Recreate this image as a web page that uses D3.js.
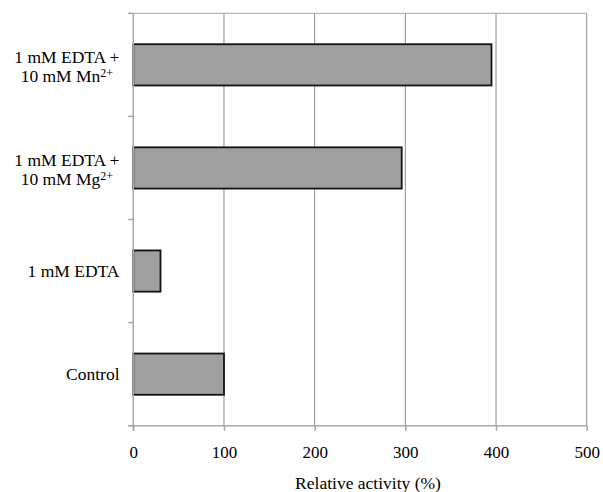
<!DOCTYPE html>
<html>
<head>
<meta charset="utf-8">
<script src="https://cdn.jsdelivr.net/npm/d3@7/dist/d3.min.js"></script>
<style>
  html, body { margin: 0; padding: 0; background: #fff; }
</style>
</head>
<body>
<svg id="chart" width="603" height="492"></svg>
<script>
// Categories from top to bottom; each label given as lines, superscript as [base, sup]
const categories = ["Mn", "Mg", "EDTA", "Control"];
const categoryLabels = [
  [[["1 mM EDTA +", ""]], [["10 mM Mn", "2+"]]],
  [[["1 mM EDTA +", ""]], [["10 mM Mg", "2+"]]],
  [[["1 mM EDTA", ""]]],
  [[["Control", ""]]]
];
const values = [395, 296, 30, 100];
const xTicks = [0, 100, 200, 300, 400, 500];
const xTitle = "Relative activity (%)";

const FONT = "'Liberation Serif', Tinos, 'Times New Roman', Times, 'Nimbus Roman', 'DejaVu Serif', serif";

const svg = d3.select("#chart");
const pLeft = 133.3, pRight = 586.7, pTop = 13.3, pBottom = 425.7;

const x = d3.scaleLinear().domain([0, 500]).range([pLeft, pRight]);
const y = d3.scaleBand().domain(categories).range([pTop, pBottom])
  .paddingInner(0.6).paddingOuter(0.3);

const axisColor = "#a8a8a8";
const gridColor = "#8a8a8a";

// gridlines
svg.append("g").selectAll("line").data(xTicks.filter(d => d > 0)).join("line")
  .attr("x1", d => x(d)).attr("x2", d => x(d))
  .attr("y1", pTop).attr("y2", pBottom)
  .attr("stroke", gridColor).attr("stroke-width", 1);

// top border
svg.append("line").attr("x1", pLeft - 5).attr("x2", pRight)
  .attr("y1", pTop).attr("y2", pTop)
  .attr("stroke", axisColor).attr("stroke-width", 1);

// bars
svg.append("g").selectAll("rect").data(categories).join("rect")
  .attr("x", x(0))
  .attr("y", d => y(d))
  .attr("width", (d, i) => x(values[i]) - x(0))
  .attr("height", y.bandwidth())
  .attr("fill", "#a0a0a0")
  .attr("stroke", "#111")
  .attr("stroke-width", 1.8);

// y axis line and ticks at band boundaries
svg.append("line").attr("x1", pLeft).attr("x2", pLeft).attr("y1", pTop).attr("y2", pBottom + 5)
  .attr("stroke", axisColor).attr("stroke-width", 1.5);
const boundaries = d3.range(categories.length + 1).map(i => pTop + i * (pBottom - pTop) / categories.length);
svg.append("g").selectAll("line").data(boundaries).join("line")
  .attr("x1", pLeft - 5).attr("x2", pLeft)
  .attr("y1", d => d).attr("y2", d => d)
  .attr("stroke", axisColor).attr("stroke-width", 1.5);

// x axis
const xAxis = d3.axisBottom(x).tickValues(xTicks).tickSize(5).tickPadding(16);
const gx = svg.append("g").attr("transform", `translate(0,${pBottom})`).call(xAxis);
gx.attr("font-family", null).attr("font-size", null);
gx.select(".domain").attr("stroke", axisColor).attr("stroke-width", 1.5)
  .attr("d", `M${pLeft - 5},0H${pRight}`);
gx.selectAll(".tick line").attr("stroke", axisColor).attr("stroke-width", 1.5);
gx.selectAll(".tick text").style("font-family", FONT).style("font-size", "17px")
  .attr("fill", "#000").attr("dy", null).attr("y", 32.5);

// x title
svg.append("text").attr("x", 368).attr("y", 489).attr("text-anchor", "middle")
  .style("font-family", FONT).style("font-size", "17.5px").attr("fill", "#000").text(xTitle);

// category labels
const labelRight = 119.5;
categories.forEach((c, i) => {
  const lines = categoryLabels[i];
  const cy = y(c) + y.bandwidth() / 2;
  const g = svg.append("g");
  const texts = lines.map((ln, j) => {
    const baseY = lines.length === 1 ? cy + 6 : cy - 1.5 + j * 19;
    const t = g.append("text").attr("y", baseY).attr("text-anchor", "middle")
      .style("font-family", FONT).style("font-size", "17.5px").attr("fill", "#000");
    ln.forEach(([base, sup]) => {
      t.append("tspan").text(base);
      if (sup) {
        t.append("tspan").style("font-size", "12px").attr("dy", -5.5).text(sup);
      }
    });
    return t;
  });
  const widths = texts.map(t => t.node().getComputedTextLength());
  const maxW = d3.max(widths);
  texts.forEach(t => t.attr("x", labelRight - maxW / 2));
});
</script>
</body>
</html>
